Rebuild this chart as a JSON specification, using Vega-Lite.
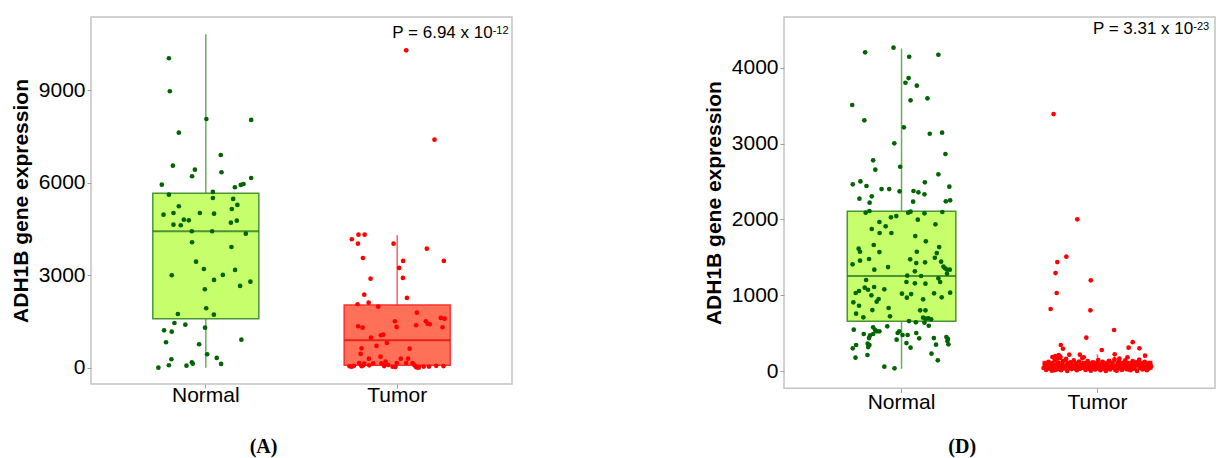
{
  "$schema": "https://vega.github.io/schema/vega-lite/v6.json",
  "background": "white",
  "padding": {"left": 9, "top": 16, "right": 0, "bottom": 0},
  "config": {
    "view": {"stroke": "#c4c4c4", "strokeWidth": 1.5},
    "axis": {"grid": false, "domain": false, "tickColor": "#a0a0a0", "tickSize": 4, "labelColor": "#000000", "labelFont": "Liberation Sans", "labelFontSize": 21, "titleFont": "Liberation Sans", "titleColor": "#000000"}
  },
  "datasets": {
    "boxA": [
      {"group": "Normal", "lower": 0, "q1": 1590, "median": 4426, "q3": 5658, "upper": 10818},
      {"group": "Tumor", "lower": 10, "q1": 77, "median": 888, "q3": 2034, "upper": 4296}
    ],
    "boxD": [
      {"group": "Normal", "lower": 30, "q1": 655, "median": 1253, "q3": 2106, "upper": 4255},
      {"group": "Tumor", "lower": 0, "q1": 22, "median": 65, "q3": 125, "upper": 220}
    ],
    "pA": [{"label": "P = 6.94 x 10", "sup": "-12"}],
    "pD": [{"label": "P = 3.31 x 10", "sup": "-23"}],
    "pointsA": [
      {"group":"Normal","jitter":-0.193,"value":10039},{"group":"Normal","jitter":-0.188,"value":8968},{"group":"Normal","jitter":0.003,"value":8069},{"group":"Normal","jitter":0.237,"value":8037},{"group":"Normal","jitter":-0.141,"value":7625},{"group":"Normal","jitter":0.078,"value":6901},{"group":"Normal","jitter":-0.172,"value":6554},{"group":"Normal","jitter":-0.057,"value":6424},{"group":"Normal","jitter":-0.072,"value":6210},{"group":"Normal","jitter":0.082,"value":6340},{"group":"Normal","jitter":-0.23,"value":5938},{"group":"Normal","jitter":0.152,"value":5853},{"group":"Normal","jitter":0.183,"value":5928},{"group":"Normal","jitter":0.197,"value":5960},{"group":"Normal","jitter":0.237,"value":6155},{"group":"Normal","jitter":-0.193,"value":5613},{"group":"Normal","jitter":0.037,"value":5701},{"group":"Normal","jitter":0.037,"value":5506},{"group":"Normal","jitter":0.143,"value":5474},{"group":"Normal","jitter":-0.141,"value":5237},{"group":"Normal","jitter":0.165,"value":5279},{"group":"Normal","jitter":0.136,"value":5149},{"group":"Normal","jitter":-0.221,"value":4964},{"group":"Normal","jitter":-0.169,"value":5019},{"group":"Normal","jitter":-0.031,"value":5019},{"group":"Normal","jitter":0.043,"value":4997},{"group":"Normal","jitter":-0.115,"value":4802},{"group":"Normal","jitter":-0.089,"value":4782},{"group":"Normal","jitter":-0.169,"value":4640},{"group":"Normal","jitter":-0.131,"value":4620},{"group":"Normal","jitter":0.131,"value":4705},{"group":"Normal","jitter":0.162,"value":4770},{"group":"Normal","jitter":-0.073,"value":4426},{"group":"Normal","jitter":0.033,"value":4426},{"group":"Normal","jitter":0.209,"value":4348},{"group":"Normal","jitter":-0.072,"value":4069},{"group":"Normal","jitter":0.134,"value":3916},{"group":"Normal","jitter":-0.051,"value":3440},{"group":"Normal","jitter":-0.01,"value":3202},{"group":"Normal","jitter":0.153,"value":3170},{"group":"Normal","jitter":-0.178,"value":2998},{"group":"Normal","jitter":0.089,"value":3008},{"group":"Normal","jitter":0.043,"value":2846},{"group":"Normal","jitter":0.233,"value":2790},{"group":"Normal","jitter":0.179,"value":2651},{"group":"Normal","jitter":-0.005,"value":2544},{"group":"Normal","jitter":0.002,"value":1927},{"group":"Normal","jitter":-0.146,"value":1742},{"group":"Normal","jitter":0.042,"value":1720},{"group":"Normal","jitter":-0.164,"value":1450},{"group":"Normal","jitter":-0.107,"value":1395},{"group":"Normal","jitter":-0.004,"value":1298},{"group":"Normal","jitter":-0.218,"value":1213},{"group":"Normal","jitter":-0.178,"value":1168},{"group":"Normal","jitter":-0.208,"value":824},{"group":"Normal","jitter":-0.035,"value":759},{"group":"Normal","jitter":0.186,"value":908},{"group":"Normal","jitter":0.007,"value":435},{"group":"Normal","jitter":-0.18,"value":273},{"group":"Normal","jitter":0.057,"value":315},{"group":"Normal","jitter":-0.248,"value":0},{"group":"Normal","jitter":-0.193,"value":78},{"group":"Normal","jitter":-0.101,"value":65},{"group":"Normal","jitter":-0.073,"value":175},{"group":"Normal","jitter":-0.068,"value":130},{"group":"Normal","jitter":0.08,"value":120},
      {"group":"Tumor","jitter":0.047,"value":10298},{"group":"Tumor","jitter":0.195,"value":7398},{"group":"Tumor","jitter":-0.237,"value":4166},{"group":"Tumor","jitter":-0.202,"value":4315},{"group":"Tumor","jitter":-0.17,"value":4315},{"group":"Tumor","jitter":-0.205,"value":4023},{"group":"Tumor","jitter":-0.019,"value":4023},{"group":"Tumor","jitter":0.155,"value":3861},{"group":"Tumor","jitter":-0.179,"value":3559},{"group":"Tumor","jitter":0.031,"value":3462},{"group":"Tumor","jitter":0.244,"value":3462},{"group":"Tumor","jitter":0.01,"value":3235},{"group":"Tumor","jitter":-0.139,"value":2888},{"group":"Tumor","jitter":0.03,"value":2911},{"group":"Tumor","jitter":-0.172,"value":2369},{"group":"Tumor","jitter":0.051,"value":2262},{"group":"Tumor","jitter":-0.207,"value":2057},{"group":"Tumor","jitter":-0.149,"value":2109},{"group":"Tumor","jitter":-0.099,"value":1979},{"group":"Tumor","jitter":0.103,"value":1785},{"group":"Tumor","jitter":-0.012,"value":1506},{"group":"Tumor","jitter":-0.204,"value":1343},{"group":"Tumor","jitter":-0.181,"value":1298},{"group":"Tumor","jitter":-0.003,"value":1321},{"group":"Tumor","jitter":0.099,"value":1376},{"group":"Tumor","jitter":0.15,"value":1506},{"group":"Tumor","jitter":0.159,"value":1428},{"group":"Tumor","jitter":0.171,"value":1408},{"group":"Tumor","jitter":0.228,"value":1613},{"group":"Tumor","jitter":0.248,"value":1590},{"group":"Tumor","jitter":0.237,"value":1311},{"group":"Tumor","jitter":-0.137,"value":973},{"group":"Tumor","jitter":-0.085,"value":1051},{"group":"Tumor","jitter":-0.073,"value":1071},{"group":"Tumor","jitter":-0.054,"value":801},{"group":"Tumor","jitter":-0.108,"value":704},{"group":"Tumor","jitter":-0.186,"value":629},{"group":"Tumor","jitter":0.065,"value":617},{"group":"Tumor","jitter":-0.191,"value":445},{"group":"Tumor","jitter":-0.087,"value":357},{"group":"Tumor","jitter":-0.148,"value":292},{"group":"Tumor","jitter":0.019,"value":292},{"group":"Tumor","jitter":0.057,"value":292},{"group":"Tumor","jitter":-0.061,"value":195},{"group":"Tumor","jitter":-0.002,"value":152},{"group":"Tumor","jitter":0.047,"value":152},{"group":"Tumor","jitter":0.08,"value":152},{"group":"Tumor","jitter":-0.125,"value":143},{"group":"Tumor","jitter":-0.199,"value":152},{"group":"Tumor","jitter":-0.172,"value":130},{"group":"Tumor","jitter":-0.082,"value":143},{"group":"Tumor","jitter":-0.249,"value":45},{"group":"Tumor","jitter":-0.238,"value":30},{"group":"Tumor","jitter":-0.226,"value":60},{"group":"Tumor","jitter":-0.186,"value":45},{"group":"Tumor","jitter":-0.176,"value":75},{"group":"Tumor","jitter":-0.146,"value":75},{"group":"Tumor","jitter":-0.068,"value":50},{"group":"Tumor","jitter":-0.047,"value":90},{"group":"Tumor","jitter":-0.024,"value":30},{"group":"Tumor","jitter":0.089,"value":90},{"group":"Tumor","jitter":0.096,"value":45},{"group":"Tumor","jitter":0.115,"value":30},{"group":"Tumor","jitter":0.139,"value":35},{"group":"Tumor","jitter":0.166,"value":35},{"group":"Tumor","jitter":0.204,"value":60},{"group":"Tumor","jitter":0.242,"value":50},{"group":"Tumor","jitter":0.1,"value":10},{"group":"Tumor","jitter":0.112,"value":0},{"group":"Tumor","jitter":-0.01,"value":20}
    ],
    "pointsD": [
      {"group":"Normal","jitter":-0.186,"value":4203},{"group":"Normal","jitter":-0.041,"value":4264},{"group":"Normal","jitter":0.039,"value":4145},{"group":"Normal","jitter":0.188,"value":4171},{"group":"Normal","jitter":0.036,"value":3864},{"group":"Normal","jitter":0.02,"value":3802},{"group":"Normal","jitter":0.078,"value":3763},{"group":"Normal","jitter":0.046,"value":3570},{"group":"Normal","jitter":0.132,"value":3596},{"group":"Normal","jitter":-0.252,"value":3508},{"group":"Normal","jitter":-0.19,"value":3306},{"group":"Normal","jitter":0.012,"value":3214},{"group":"Normal","jitter":0.144,"value":3129},{"group":"Normal","jitter":0.207,"value":3143},{"group":"Normal","jitter":-0.037,"value":3003},{"group":"Normal","jitter":0.224,"value":2862},{"group":"Normal","jitter":-0.145,"value":2779},{"group":"Normal","jitter":-0.007,"value":2694},{"group":"Normal","jitter":-0.134,"value":2655},{"group":"Normal","jitter":0.188,"value":2594},{"group":"Normal","jitter":-0.249,"value":2462},{"group":"Normal","jitter":-0.21,"value":2501},{"group":"Normal","jitter":-0.179,"value":2440},{"group":"Normal","jitter":-0.102,"value":2400},{"group":"Normal","jitter":-0.063,"value":2400},{"group":"Normal","jitter":-0.01,"value":2370},{"group":"Normal","jitter":0.061,"value":2374},{"group":"Normal","jitter":0.086,"value":2357},{"group":"Normal","jitter":0.117,"value":2330},{"group":"Normal","jitter":0.119,"value":2488},{"group":"Normal","jitter":0.244,"value":2431},{"group":"Normal","jitter":-0.215,"value":2273},{"group":"Normal","jitter":-0.152,"value":2304},{"group":"Normal","jitter":-0.163,"value":2220},{"group":"Normal","jitter":0.059,"value":2233},{"group":"Normal","jitter":0.226,"value":2238},{"group":"Normal","jitter":0.248,"value":2251},
      {"group":"Normal","jitter":-0.183,"value":2088},{"group":"Normal","jitter":-0.164,"value":2110},{"group":"Normal","jitter":0.034,"value":2088},{"group":"Normal","jitter":0.046,"value":2101},{"group":"Normal","jitter":0.117,"value":2080},{"group":"Normal","jitter":0.208,"value":2097},{"group":"Normal","jitter":-0.054,"value":2027},{"group":"Normal","jitter":-0.027,"value":2044},{"group":"Normal","jitter":0.083,"value":1996},{"group":"Normal","jitter":-0.113,"value":1965},{"group":"Normal","jitter":-0.081,"value":1908},{"group":"Normal","jitter":0.173,"value":1934},{"group":"Normal","jitter":-0.152,"value":1873},{"group":"Normal","jitter":-0.112,"value":1820},{"group":"Normal","jitter":-0.052,"value":1820},{"group":"Normal","jitter":0.07,"value":1780},{"group":"Normal","jitter":0.124,"value":1710},{"group":"Normal","jitter":-0.142,"value":1662},{"group":"Normal","jitter":-0.219,"value":1613},{"group":"Normal","jitter":-0.212,"value":1573},{"group":"Normal","jitter":-0.113,"value":1569},{"group":"Normal","jitter":0.078,"value":1573},{"group":"Normal","jitter":0.192,"value":1635},{"group":"Normal","jitter":0.18,"value":1556},{"group":"Normal","jitter":0.17,"value":1494},{"group":"Normal","jitter":-0.25,"value":1407},{"group":"Normal","jitter":-0.212,"value":1455},{"group":"Normal","jitter":-0.166,"value":1477},{"group":"Normal","jitter":0.044,"value":1473},{"group":"Normal","jitter":0.075,"value":1424},{"group":"Normal","jitter":0.12,"value":1433},{"group":"Normal","jitter":0.202,"value":1442},{"group":"Normal","jitter":0.214,"value":1376},{"group":"Normal","jitter":0.222,"value":1354},{"group":"Normal","jitter":0.232,"value":1336},{"group":"Normal","jitter":0.246,"value":1336},{"group":"Normal","jitter":0.232,"value":1283},{"group":"Normal","jitter":-0.069,"value":1371},{"group":"Normal","jitter":-0.139,"value":1336},{"group":"Normal","jitter":0.068,"value":1315},{"group":"Normal","jitter":0.029,"value":1257},{"group":"Normal","jitter":0.1,"value":1253},{"group":"Normal","jitter":0.188,"value":1222},{"group":"Normal","jitter":0.197,"value":1174},{"group":"Normal","jitter":-0.181,"value":1200},{"group":"Normal","jitter":0.025,"value":1174},{"group":"Normal","jitter":0.068,"value":1157},{"group":"Normal","jitter":0.122,"value":1152},{"group":"Normal","jitter":-0.188,"value":1099},{"group":"Normal","jitter":-0.171,"value":1072},{"group":"Normal","jitter":-0.14,"value":1108},{"group":"Normal","jitter":-0.088,"value":1077},{"group":"Normal","jitter":-0.234,"value":1029},{"group":"Normal","jitter":-0.217,"value":1055},{"group":"Normal","jitter":-0.154,"value":998},{"group":"Normal","jitter":0.002,"value":1020},{"group":"Normal","jitter":0.049,"value":1015},{"group":"Normal","jitter":0.166,"value":1025},{"group":"Normal","jitter":0.248,"value":1033},{"group":"Normal","jitter":0.027,"value":967},{"group":"Normal","jitter":0.205,"value":972},{"group":"Normal","jitter":-0.117,"value":950},{"group":"Normal","jitter":-0.127,"value":914},{"group":"Normal","jitter":0.11,"value":945},{"group":"Normal","jitter":-0.246,"value":906},{"group":"Normal","jitter":-0.217,"value":861},{"group":"Normal","jitter":-0.066,"value":831},{"group":"Normal","jitter":-0.149,"value":804},{"group":"Normal","jitter":0.095,"value":800},{"group":"Normal","jitter":0.122,"value":800},{"group":"Normal","jitter":-0.232,"value":756},{"group":"Normal","jitter":-0.059,"value":721},{"group":"Normal","jitter":-0.195,"value":708},{"group":"Normal","jitter":0.11,"value":703},{"group":"Normal","jitter":0.124,"value":690},{"group":"Normal","jitter":0.137,"value":695},{"group":"Normal","jitter":0.151,"value":682},{"group":"Normal","jitter":0.038,"value":659},{"group":"Normal","jitter":0.073,"value":642},{"group":"Normal","jitter":0.117,"value":637},{"group":"Normal","jitter":0.139,"value":597},{"group":"Normal","jitter":-0.244,"value":545},{"group":"Normal","jitter":-0.145,"value":576},{"group":"Normal","jitter":-0.135,"value":541},{"group":"Normal","jitter":-0.127,"value":524},{"group":"Normal","jitter":-0.113,"value":524},{"group":"Normal","jitter":-0.073,"value":589},{"group":"Normal","jitter":-0.193,"value":488},{"group":"Normal","jitter":-0.161,"value":470},{"group":"Normal","jitter":-0.166,"value":435},{"group":"Normal","jitter":-0.145,"value":488},{"group":"Normal","jitter":-0.02,"value":501},{"group":"Normal","jitter":-0.012,"value":524},{"group":"Normal","jitter":0.005,"value":475},{"group":"Normal","jitter":0.031,"value":475},{"group":"Normal","jitter":0.075,"value":501},{"group":"Normal","jitter":0.09,"value":431},{"group":"Normal","jitter":-0.025,"value":413},{"group":"Normal","jitter":0.025,"value":369},{"group":"Normal","jitter":0.165,"value":435},{"group":"Normal","jitter":0.229,"value":448},{"group":"Normal","jitter":0.237,"value":422},{"group":"Normal","jitter":0.234,"value":396},{"group":"Normal","jitter":-0.173,"value":360},{"group":"Normal","jitter":-0.164,"value":343},{"group":"Normal","jitter":-0.17,"value":316},{"group":"Normal","jitter":-0.232,"value":343},{"group":"Normal","jitter":-0.249,"value":299},{"group":"Normal","jitter":0.046,"value":308},{"group":"Normal","jitter":0.176,"value":347},{"group":"Normal","jitter":0.239,"value":352},{"group":"Normal","jitter":-0.174,"value":211},{"group":"Normal","jitter":-0.235,"value":176},{"group":"Normal","jitter":0.153,"value":229},{"group":"Normal","jitter":0.185,"value":141},{"group":"Normal","jitter":-0.088,"value":57},{"group":"Normal","jitter":-0.036,"value":35},
      {"group":"Tumor","jitter":-0.224,"value":3389},{"group":"Tumor","jitter":-0.103,"value":2000},{"group":"Tumor","jitter":-0.159,"value":1508},{"group":"Tumor","jitter":-0.205,"value":1437},{"group":"Tumor","jitter":-0.214,"value":1292},{"group":"Tumor","jitter":-0.034,"value":1196},{"group":"Tumor","jitter":-0.208,"value":1029},{"group":"Tumor","jitter":-0.239,"value":818},{"group":"Tumor","jitter":-0.036,"value":800},{"group":"Tumor","jitter":0.085,"value":541},{"group":"Tumor","jitter":-0.057,"value":440},{"group":"Tumor","jitter":0.18,"value":380},
      {"group":"Tumor","jitter":-0.187,"value":343},{"group":"Tumor","jitter":-0.176,"value":294},{"group":"Tumor","jitter":0.159,"value":308},{"group":"Tumor","jitter":0.214,"value":299},{"group":"Tumor","jitter":0.022,"value":277},{"group":"Tumor","jitter":0.243,"value":202},{"group":"Tumor","jitter":-0.144,"value":215},{"group":"Tumor","jitter":-0.09,"value":215},{"group":"Tumor","jitter":0.088,"value":220},{"group":"Tumor","jitter":-0.07,"value":180},{"group":"Tumor","jitter":0.112,"value":163},{"group":"Tumor","jitter":0.153,"value":180},{"group":"Tumor","jitter":-0.215,"value":198},{"group":"Tumor","jitter":-0.198,"value":211},{"group":"Tumor","jitter":-0.23,"value":185},{"group":"Tumor","jitter":-0.205,"value":165},{"group":"Tumor","jitter":-0.19,"value":190},
      {"group":"Tumor","jitter":-0.275,"value":40},{"group":"Tumor","jitter":-0.268,"value":95},{"group":"Tumor","jitter":-0.262,"value":15},{"group":"Tumor","jitter":-0.255,"value":70},{"group":"Tumor","jitter":-0.25,"value":120},{"group":"Tumor","jitter":-0.246,"value":30},{"group":"Tumor","jitter":-0.24,"value":60},{"group":"Tumor","jitter":-0.233,"value":5},{"group":"Tumor","jitter":-0.228,"value":100},{"group":"Tumor","jitter":-0.222,"value":45},{"group":"Tumor","jitter":-0.218,"value":150},{"group":"Tumor","jitter":-0.213,"value":80},{"group":"Tumor","jitter":-0.207,"value":20},{"group":"Tumor","jitter":-0.2,"value":110},{"group":"Tumor","jitter":-0.196,"value":55},{"group":"Tumor","jitter":-0.19,"value":175},{"group":"Tumor","jitter":-0.186,"value":10},{"group":"Tumor","jitter":-0.18,"value":85},{"group":"Tumor","jitter":-0.176,"value":130},{"group":"Tumor","jitter":-0.17,"value":35},{"group":"Tumor","jitter":-0.165,"value":65},{"group":"Tumor","jitter":-0.16,"value":160},{"group":"Tumor","jitter":-0.154,"value":0},{"group":"Tumor","jitter":-0.149,"value":90},{"group":"Tumor","jitter":-0.143,"value":40},{"group":"Tumor","jitter":-0.138,"value":115},{"group":"Tumor","jitter":-0.132,"value":25},{"group":"Tumor","jitter":-0.127,"value":70},{"group":"Tumor","jitter":-0.121,"value":140},{"group":"Tumor","jitter":-0.116,"value":50},{"group":"Tumor","jitter":-0.11,"value":95},{"group":"Tumor","jitter":-0.105,"value":10},{"group":"Tumor","jitter":-0.1,"value":60},{"group":"Tumor","jitter":-0.094,"value":125},{"group":"Tumor","jitter":-0.089,"value":30},{"group":"Tumor","jitter":-0.083,"value":80},{"group":"Tumor","jitter":-0.078,"value":170},{"group":"Tumor","jitter":-0.072,"value":45},{"group":"Tumor","jitter":-0.067,"value":105},{"group":"Tumor","jitter":-0.061,"value":15},{"group":"Tumor","jitter":-0.056,"value":65},{"group":"Tumor","jitter":-0.05,"value":130},{"group":"Tumor","jitter":-0.045,"value":35},{"group":"Tumor","jitter":-0.04,"value":90},{"group":"Tumor","jitter":-0.034,"value":5},{"group":"Tumor","jitter":-0.029,"value":55},{"group":"Tumor","jitter":-0.023,"value":115},{"group":"Tumor","jitter":-0.018,"value":75},{"group":"Tumor","jitter":-0.012,"value":20},{"group":"Tumor","jitter":-0.007,"value":100},{"group":"Tumor","jitter":-0.001,"value":40},{"group":"Tumor","jitter":0.004,"value":145},{"group":"Tumor","jitter":0.01,"value":60},{"group":"Tumor","jitter":0.015,"value":10},{"group":"Tumor","jitter":0.021,"value":85},{"group":"Tumor","jitter":0.026,"value":120},{"group":"Tumor","jitter":0.032,"value":30},{"group":"Tumor","jitter":0.037,"value":70},{"group":"Tumor","jitter":0.043,"value":0},{"group":"Tumor","jitter":0.048,"value":95},{"group":"Tumor","jitter":0.054,"value":50},{"group":"Tumor","jitter":0.059,"value":135},{"group":"Tumor","jitter":0.065,"value":20},{"group":"Tumor","jitter":0.07,"value":75},{"group":"Tumor","jitter":0.076,"value":110},{"group":"Tumor","jitter":0.081,"value":40},{"group":"Tumor","jitter":0.087,"value":155},{"group":"Tumor","jitter":0.092,"value":65},{"group":"Tumor","jitter":0.098,"value":5},{"group":"Tumor","jitter":0.103,"value":90},{"group":"Tumor","jitter":0.109,"value":125},{"group":"Tumor","jitter":0.114,"value":35},{"group":"Tumor","jitter":0.12,"value":80},{"group":"Tumor","jitter":0.125,"value":15},{"group":"Tumor","jitter":0.131,"value":105},{"group":"Tumor","jitter":0.136,"value":55},{"group":"Tumor","jitter":0.142,"value":140},{"group":"Tumor","jitter":0.147,"value":25},{"group":"Tumor","jitter":0.153,"value":70},{"group":"Tumor","jitter":0.158,"value":100},{"group":"Tumor","jitter":0.164,"value":45},{"group":"Tumor","jitter":0.169,"value":10},{"group":"Tumor","jitter":0.175,"value":85},{"group":"Tumor","jitter":0.18,"value":130},{"group":"Tumor","jitter":0.186,"value":30},{"group":"Tumor","jitter":0.191,"value":65},{"group":"Tumor","jitter":0.197,"value":115},{"group":"Tumor","jitter":0.202,"value":0},{"group":"Tumor","jitter":0.208,"value":75},{"group":"Tumor","jitter":0.213,"value":150},{"group":"Tumor","jitter":0.219,"value":40},{"group":"Tumor","jitter":0.224,"value":95},{"group":"Tumor","jitter":0.23,"value":20},{"group":"Tumor","jitter":0.235,"value":60},{"group":"Tumor","jitter":0.241,"value":120},{"group":"Tumor","jitter":0.246,"value":50},{"group":"Tumor","jitter":0.252,"value":10},{"group":"Tumor","jitter":0.257,"value":85},{"group":"Tumor","jitter":0.263,"value":35},{"group":"Tumor","jitter":0.268,"value":105},{"group":"Tumor","jitter":0.274,"value":60},
      {"group":"Tumor","jitter":-0.265,"value":55},{"group":"Tumor","jitter":-0.243,"value":85},{"group":"Tumor","jitter":-0.22,"value":10},{"group":"Tumor","jitter":-0.198,"value":70},{"group":"Tumor","jitter":-0.175,"value":45},{"group":"Tumor","jitter":-0.152,"value":100},{"group":"Tumor","jitter":-0.13,"value":60},{"group":"Tumor","jitter":-0.108,"value":20},{"group":"Tumor","jitter":-0.085,"value":50},{"group":"Tumor","jitter":-0.063,"value":80},{"group":"Tumor","jitter":-0.041,"value":25},{"group":"Tumor","jitter":-0.019,"value":60},{"group":"Tumor","jitter":0.003,"value":90},{"group":"Tumor","jitter":0.025,"value":45},{"group":"Tumor","jitter":0.047,"value":25},{"group":"Tumor","jitter":0.069,"value":55},{"group":"Tumor","jitter":0.091,"value":15},{"group":"Tumor","jitter":0.113,"value":60},{"group":"Tumor","jitter":0.135,"value":90},{"group":"Tumor","jitter":0.157,"value":20},{"group":"Tumor","jitter":0.179,"value":50},{"group":"Tumor","jitter":0.201,"value":100},{"group":"Tumor","jitter":0.223,"value":55},{"group":"Tumor","jitter":0.245,"value":30},{"group":"Tumor","jitter":0.267,"value":80}
    ]
  },
  "spacing": 272,
  "bounds": "flush",
  "hconcat": [
    {
      "width": 421,
      "height": 367,
      "resolve": {"scale": {"xOffset": "independent"}},
      "encoding": {
        "x": {"field": "group", "type": "nominal", "scale": {"domain": ["Normal", "Tumor"], "paddingInner": 0.446, "paddingOuter": 0.323},
          "axis": {"title": "(A)", "titleFont": "Liberation Serif", "titleFontSize": 20, "titleFontWeight": "bold", "titleX": 172, "titleY": 68.7, "titleBaseline": "alphabetic", "labelAngle": 0, "labelPadding": -4}}
      },
      "layer": [
        {"data": {"name": "boxA"}, "mark": {"type": "rule", "strokeWidth": 1.5},
          "encoding": {"y": {"field": "lower", "type": "quantitative", "scale": {"domain": [-530, 11378], "nice": false, "zero": false}, "title": "ADH1B gene expression", "axis": {"values": [0, 3000, 6000, 9000], "format": "d", "titleFontWeight": "bold", "titleFontSize": 21, "titlePadding": 7, "labelPadding": 2}},
            "y2": {"field": "upper"},
            "color": {"condition": {"test": "datum.group === 'Normal'", "value": "#6aac62"}, "value": "#ff6060"}}},
        {"data": {"name": "boxA"}, "mark": {"type": "bar", "strokeWidth": 1.5},
          "encoding": {"y": {"field": "q1", "type": "quantitative", "scale": {"domain": [-530, 11378], "nice": false, "zero": false}, "title": "ADH1B gene expression"},
            "y2": {"field": "q3"},
            "fill": {"condition": {"test": "datum.group === 'Normal'", "value": "#c6ff6b"}, "value": "#ff7058"},
            "stroke": {"condition": {"test": "datum.group === 'Normal'", "value": "#4a9436"}, "value": "#ff3030"}}},
        {"data": {"name": "boxA"}, "mark": {"type": "tick", "orient": "horizontal", "thickness": 2, "size": 106},
          "encoding": {"y": {"field": "median", "type": "quantitative", "scale": {"domain": [-530, 11378], "nice": false, "zero": false}, "title": "ADH1B gene expression"},
            "color": {"condition": {"test": "datum.group === 'Normal'", "value": "#1a661a"}, "value": "#e00000"}}},
        {"data": {"name": "pointsA"}, "mark": {"type": "circle", "size": 22, "opacity": 1},
          "encoding": {"y": {"field": "value", "type": "quantitative", "scale": {"domain": [-530, 11378], "nice": false, "zero": false}, "title": "ADH1B gene expression"},
            "xOffset": {"field": "jitter", "type": "quantitative", "scale": {"domain": [-0.5, 0.5], "range": [-42.68, 148.68]}},
            "color": {"condition": {"test": "datum.group === 'Normal'", "value": "#006400"}, "value": "#ff0000"}}},
        {"data": {"name": "pA"}, "mark": {"type": "text", "align": "right", "baseline": "alphabetic", "dx": 95.5, "font": "Liberation Sans", "fontSize": 17, "color": "#000000"},
          "encoding": {"x": {"datum": "Tumor"}, "y": {"datum": 10687}, "text": {"field": "label"}}},
        {"data": {"name": "pA"}, "mark": {"type": "text", "align": "left", "baseline": "alphabetic", "dx": 95.5, "font": "Liberation Sans", "fontSize": 11, "color": "#000000"},
          "encoding": {"x": {"datum": "Tumor"}, "y": {"datum": 10817}, "text": {"field": "sup"}}}
      ]
    },
    {
      "width": 431,
      "height": 371.3,
      "resolve": {"scale": {"xOffset": "independent"}},
      "encoding": {
        "x": {"field": "group", "type": "nominal", "scale": {"domain": ["Normal", "Tumor"], "paddingInner": 0.446, "paddingOuter": 0.323},
          "axis": {"title": "(D)", "titleFont": "Liberation Serif", "titleFontSize": 20, "titleFontWeight": "bold", "titleX": 177.7, "titleY": 64.4, "titleBaseline": "alphabetic", "labelAngle": 0, "labelPadding": -1}}
      },
      "layer": [
        {"data": {"name": "boxD"}, "mark": {"type": "rule", "strokeWidth": 1.5},
          "encoding": {"y": {"field": "lower", "type": "quantitative", "scale": {"domain": [-228, 4669], "nice": false, "zero": false}, "title": "ADH1B gene expression", "axis": {"values": [0, 1000, 2000, 3000, 4000], "format": "d", "titleFontWeight": "bold", "titleFontSize": 21, "titlePadding": 7, "labelPadding": 2}},
            "y2": {"field": "upper"},
            "color": {"condition": {"test": "datum.group === 'Normal'", "value": "#6aac62"}, "value": "#ff6060"}}},
        {"data": {"name": "boxD"}, "mark": {"type": "bar", "strokeWidth": 1.5},
          "encoding": {"y": {"field": "q1", "type": "quantitative", "scale": {"domain": [-228, 4669], "nice": false, "zero": false}, "title": "ADH1B gene expression"},
            "y2": {"field": "q3"},
            "fill": {"condition": {"test": "datum.group === 'Normal'", "value": "#c6ff6b"}, "value": "#ff7058"},
            "stroke": {"condition": {"test": "datum.group === 'Normal'", "value": "#4a9436"}, "value": "#ff3030"}}},
        {"data": {"name": "boxD"}, "mark": {"type": "tick", "orient": "horizontal", "thickness": 2, "size": 108.5},
          "encoding": {"y": {"field": "median", "type": "quantitative", "scale": {"domain": [-228, 4669], "nice": false, "zero": false}, "title": "ADH1B gene expression"},
            "color": {"condition": {"test": "datum.group === 'Normal'", "value": "#1a661a"}, "value": "#e00000"}}},
        {"data": {"name": "pointsD"}, "mark": {"type": "circle", "size": 22, "opacity": 1},
          "encoding": {"y": {"field": "value", "type": "quantitative", "scale": {"domain": [-228, 4669], "nice": false, "zero": false}, "title": "ADH1B gene expression"},
            "xOffset": {"field": "jitter", "type": "quantitative", "scale": {"domain": [-0.5, 0.5], "range": [-43.68, 152.22]}},
            "color": {"condition": {"test": "datum.group === 'Normal'", "value": "#006400"}, "value": "#ff0000"}}},
        {"data": {"name": "pD"}, "mark": {"type": "text", "align": "right", "baseline": "alphabetic", "dx": 95.8, "font": "Liberation Sans", "fontSize": 17, "color": "#000000"},
          "encoding": {"x": {"datum": "Tumor"}, "y": {"datum": 4441}, "text": {"field": "label"}}},
        {"data": {"name": "pD"}, "mark": {"type": "text", "align": "left", "baseline": "alphabetic", "dx": 95.8, "font": "Liberation Sans", "fontSize": 11, "color": "#000000"},
          "encoding": {"x": {"datum": "Tumor"}, "y": {"datum": 4494}, "text": {"field": "sup"}}}
      ]
    }
  ]
}
